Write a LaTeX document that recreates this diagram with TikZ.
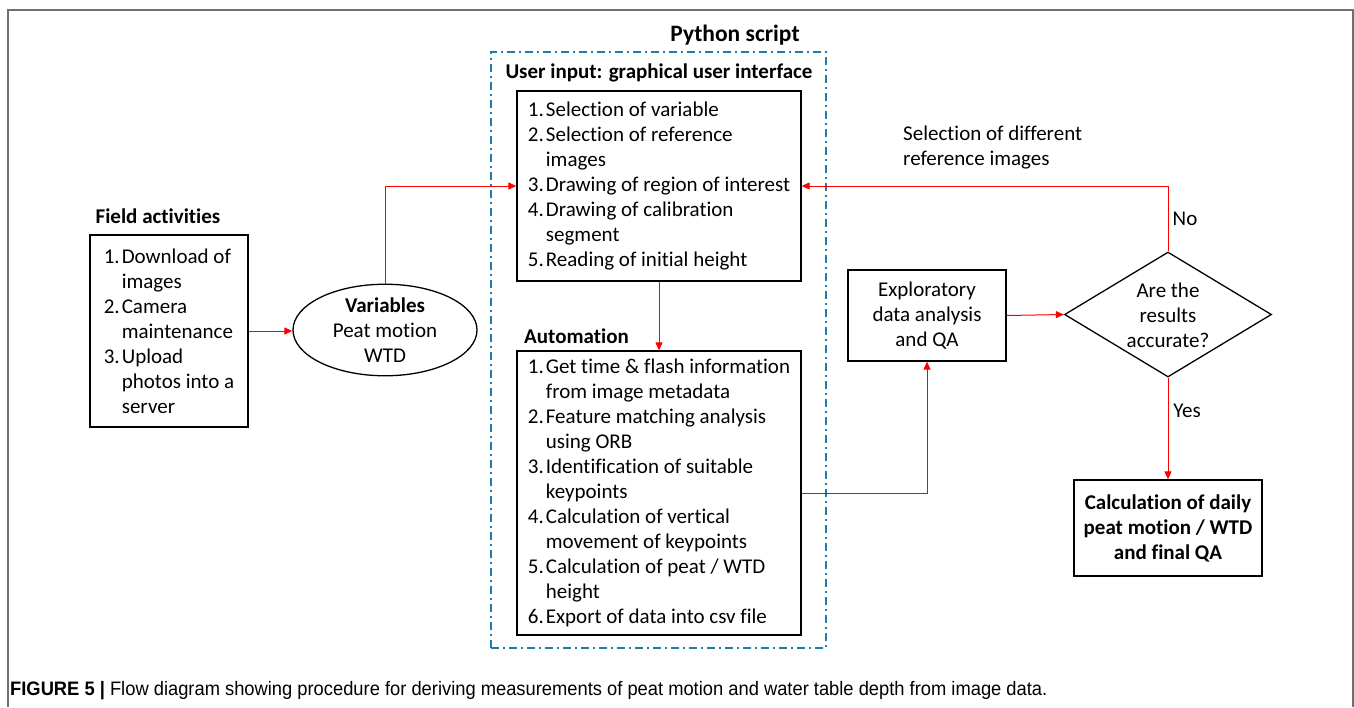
\documentclass[tikz,border=0pt]{standalone}
\usepackage{fontspec}
\setmainfont{Carlito}[Ligatures=NoCommon]
\newfontfamily\capfont{Liberation Sans}
\usetikzlibrary{shapes.geometric,arrows.meta}
\definecolor{pyblue}{RGB}{30,125,170}
\definecolor{framegray}{RGB}{112,112,112}
\newcommand\numb[1]{\makebox[18pt][l]{#1}}
\newcommand\cont{\hspace*{18pt}}
\begin{document}
\begin{tikzpicture}[x=1pt,y=-1pt,
  every node/.style={font=\fontsize{21}{25}\selectfont, inner sep=0pt},
  box/.style={draw=black, line width=1.3pt, align=left},
  redarrow/.style={draw=red, line width=1pt, -{Triangle[length=8pt,width=7pt]}},
  titletext/.style={font=\fontsize{21}{25}\selectfont\bfseries},
  ]
\useasboundingbox (0,0) rectangle (1354,707);
% frame
\draw[framegray, line width=2pt] (8,707) -- (8,10) -- (1352.5,10) -- (1352.5,707);

% field activities
\node[titletext] (fieldtitle) at (158,216) {Field activities};
\node[box, minimum width=158pt, minimum height=192pt] (field) at (169,331)
  {\numb{1.}Download of\\\cont images\\\numb{2.}Camera\\\cont maintenance\\\numb{3.}Upload\\\cont photos into a\\\cont server};

% variables
\node[draw, ellipse, line width=1.3pt, minimum width=184pt, minimum height=80pt, align=center] (var) at (385,330)
  {\textbf{Variables}\\Peat motion\\WTD};

% python script
\node[titletext, font=\fontsize{23.5}{28}\selectfont\bfseries] (pytitle) at (735,35) {Python script};
\node[draw=pyblue, line width=2pt, dash pattern=on 8pt off 4pt on 2pt off 4pt,
  minimum width=335pt, minimum height=596pt] (script) at (658.5,350) {};
\node[titletext] (uititle) at (659,73) {User input: graphical user interface};
\node[box, minimum width=284pt, minimum height=190pt] (user) at (659,186)
  {\numb{1.}Selection of variable\\\numb{2.}Selection of reference\\\cont images\\\numb{3.}Drawing of region of interest\\\numb{4.}Drawing of calibration\\\cont segment\\\numb{5.}Reading of initial height};
\node[titletext, anchor=west] (autotitle) at (524,336) {Automation};
\node[box, minimum width=284pt, minimum height=284pt] (auto) at (659,493)
  {\numb{1.}Get time \& flash information\\\cont from image metadata\\\numb{2.}Feature matching analysis\\\cont using ORB\\\numb{3.}Identification of suitable\\\cont keypoints\\\numb{4.}Calculation of vertical\\\cont movement of keypoints\\\numb{5.}Calculation of peat / WTD\\\cont height\\\numb{6.}Export of data into csv file};

% exploratory
\node[box, align=center, minimum width=158pt, minimum height=91pt] (explore) at (927,315.5)
  {Exploratory\\data analysis\\and QA};

% decision
\node[draw, diamond, line width=1.3pt, minimum width=207pt, minimum height=125pt] (dec) at (1168,314.5) {};
\node[align=center] (dectext) at (1168,315.5) {Are the\\results\\accurate?};

% calculation
\node[box, align=center, font=\fontsize{21}{25}\selectfont\bfseries, minimum width=188pt, minimum height=96pt] (calc) at (1168,528)
  {Calculation of daily\\peat motion / WTD\\and final QA};

% labels
\node (nolabel) at (1185,219) {No};
\node (yeslabel) at (1187,411) {Yes};
\node[align=left, anchor=west] (sellabel) at (903,147.5) {Selection of different\\reference images};

% arrows
\draw[redarrow] (field.east) -- (field.east -| var.west);
\draw[redarrow] (var.north) |- (user.west);
\draw[redarrow] (user.south) -- (auto.north);
\draw[redarrow] (auto.east) -| (explore.south);
\draw[redarrow] (explore.east) -- (dec.west);
\draw[redarrow] (dec.north) |- (user.east);
\draw[redarrow] (dec.south) -- (calc.north);

% caption
\node[anchor=west, font=\capfont\fontsize{19.5}{22}\selectfont] (caption) at (10,691)
  {\scalebox{0.94}[1]{\textbf{FIGURE 5 |} Flow diagram showing procedure for deriving measurements of peat motion and water table depth from image data.}};
\end{tikzpicture}
\end{document}
